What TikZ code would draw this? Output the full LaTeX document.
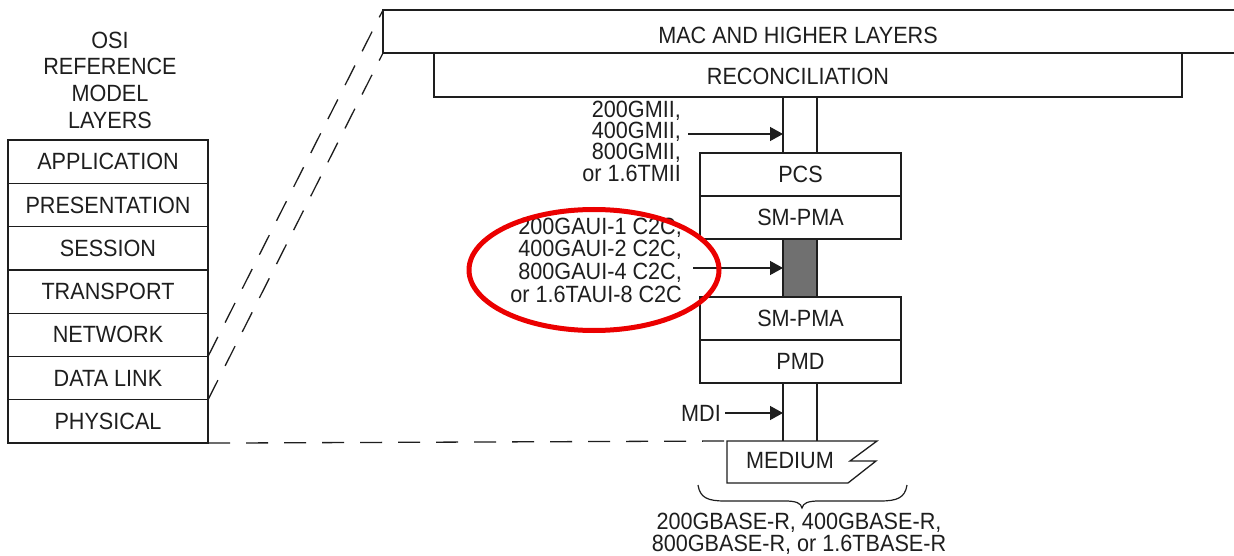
\documentclass[tikz,border=0pt]{standalone}
\usepackage{fontspec}
\setmainfont{Liberation Sans}[FakeStretch=0.92]
\usetikzlibrary{arrows.meta,shapes.geometric}
\definecolor{ink}{RGB}{30,30,30}
\definecolor{fillg}{RGB}{112,112,112}
\definecolor{hlred}{RGB}{235,0,0}
\newcommand{\lblfont}{\fontsize{23.5}{22}\selectfont}
\tikzset{
  ln/.style={draw=ink, line width=1.3pt},
  layerbox/.style={ln, inner sep=0pt, outer sep=0pt, font=\lblfont, text=ink, minimum width=200pt, minimum height=43.3pt, anchor=north west},
  phybox/.style={ln, inner sep=0pt, outer sep=0pt, font=\lblfont, text=ink, minimum width=201pt, minimum height=43pt, anchor=north west},
  txt/.style={inner sep=0pt, font=\lblfont, text=ink},
  dashln/.style={ln, dash pattern=on 22pt off 16pt},
  arr/.style={ln, -{Triangle[length=13pt,width=14pt]}},
}
\begin{document}
\begin{tikzpicture}[x=1pt,y=-1pt]
\clip (0,0) rectangle (1234,556);
\fill[white] (0,0) rectangle (1234,556);

% OSI title
\node[txt, align=center, font=\fontsize{23.5}{26.7}\selectfont] (osi) at (110,80) {OSI\\REFERENCE\\MODEL\\LAYERS};

% OSI layers
\node[layerbox] (app) at (8,140) {APPLICATION};
\node[layerbox] (pres) at (app.south west) {PRESENTATION};
\node[layerbox] (sess) at (pres.south west) {SESSION};
\node[layerbox] (trans) at (sess.south west) {TRANSPORT};
\node[layerbox] (net) at (trans.south west) {NETWORK};
\node[layerbox] (dl) at (net.south west) {DATA LINK};
\node[layerbox] (phy) at (dl.south west) {PHYSICAL};

% MAC and reconciliation
\node[ln, anchor=north west, minimum width=870pt, minimum height=43pt, inner sep=0pt, outer sep=0pt] (mac) at (383,10) {};
\node[txt] (mactxt) at (798,35) {MAC AND HIGHER LAYERS};
\node[ln, anchor=north west, minimum width=748pt, minimum height=44pt, inner sep=0pt, outer sep=0pt] (recon) at (434,53) {};
\node[txt] (recontxt) at (798,76) {RECONCILIATION};

% PHY stack
\node[phybox] (pcs) at (700,153) {PCS};
\node[phybox] (sm1) at (pcs.south west) {SM-PMA};
\node[ln, fill=fillg, anchor=north west, minimum width=34pt, minimum height=58pt, inner sep=0pt, outer sep=0pt] (c2c) at (783,239) {};
\node[phybox] (sm2) at (c2c.south west -| pcs.west) {SM-PMA};
\node[phybox] (pmd) at (sm2.south west) {PMD};

% Medium
\coordinate (medtl) at (727,441);
\draw[ln, line join=miter] (medtl) -- (877,441) -- (850,461) -- (876,461) -- (848,483) -- (727,483) -- cycle;
\node[txt] (medium) at (790,461) {MEDIUM};

% vertical interface lines
\draw[ln] (recon.south -| c2c.west) -- (pcs.north -| c2c.west);
\draw[ln] (recon.south -| c2c.east) -- (pcs.north -| c2c.east);
\draw[ln] (pmd.south -| c2c.west) -- (medtl -| c2c.west);
\draw[ln] (pmd.south -| c2c.east) -- (medtl -| c2c.east);

% dashed mapping lines
\draw[dashln] (dl.north east) -- (mac.north west);
\draw[dashln] (phy.north east) -- (mac.south west);
\draw[dashln] (phy.south east) -- (medtl);

% interface labels and arrows
\node[txt, anchor=east, align=right, font=\fontsize{23.5}{21.3}\selectfont] (mii) at (681,141) {200GMII,\\400GMII,\\800GMII,\\or 1.6TMII};
\coordinate (a1) at (688,134);
\draw[arr] (a1) -- (a1 -| c2c.west);

\node[txt, anchor=east, align=right, font=\fontsize{23.5}{22.7}\selectfont] (aui) at (682,260) {200GAUI-1 C2C,\\400GAUI-2 C2C,\\800GAUI-4 C2C,\\or 1.6TAUI-8 C2C};
\coordinate (a2) at (693,268);
\draw[arr] (a2) -- (a2 -| c2c.west);

\node[txt, anchor=east] (mdi) at (721,413) {MDI};
\coordinate (a3) at (725,413);
\draw[arr] (a3) -- (a3 -| c2c.west);

% brace
\coordinate (bl) at (698,485);
\coordinate (br) at (907,485);
\draw[ln, line width=1.2pt] (bl) .. controls (700,498) and (708,501) .. (725,501) -- (785,501) .. controls (796,501) and (801,503) .. (802,508) .. controls (803,503) and (808,501) .. (819,501) -- (880,501) .. controls (897,501) and (905,498) .. (br);
\node[txt, align=center] (phytypes) at (799,534) {200GBASE-R, 400GBASE-R,\\800GBASE-R, or 1.6TBASE-R};

% highlight ellipse
\node[draw=hlred, line width=5pt, ellipse, minimum width=250pt, minimum height=121pt, inner sep=0pt] (hl) at (594,270) {};
\end{tikzpicture}
\end{document}
